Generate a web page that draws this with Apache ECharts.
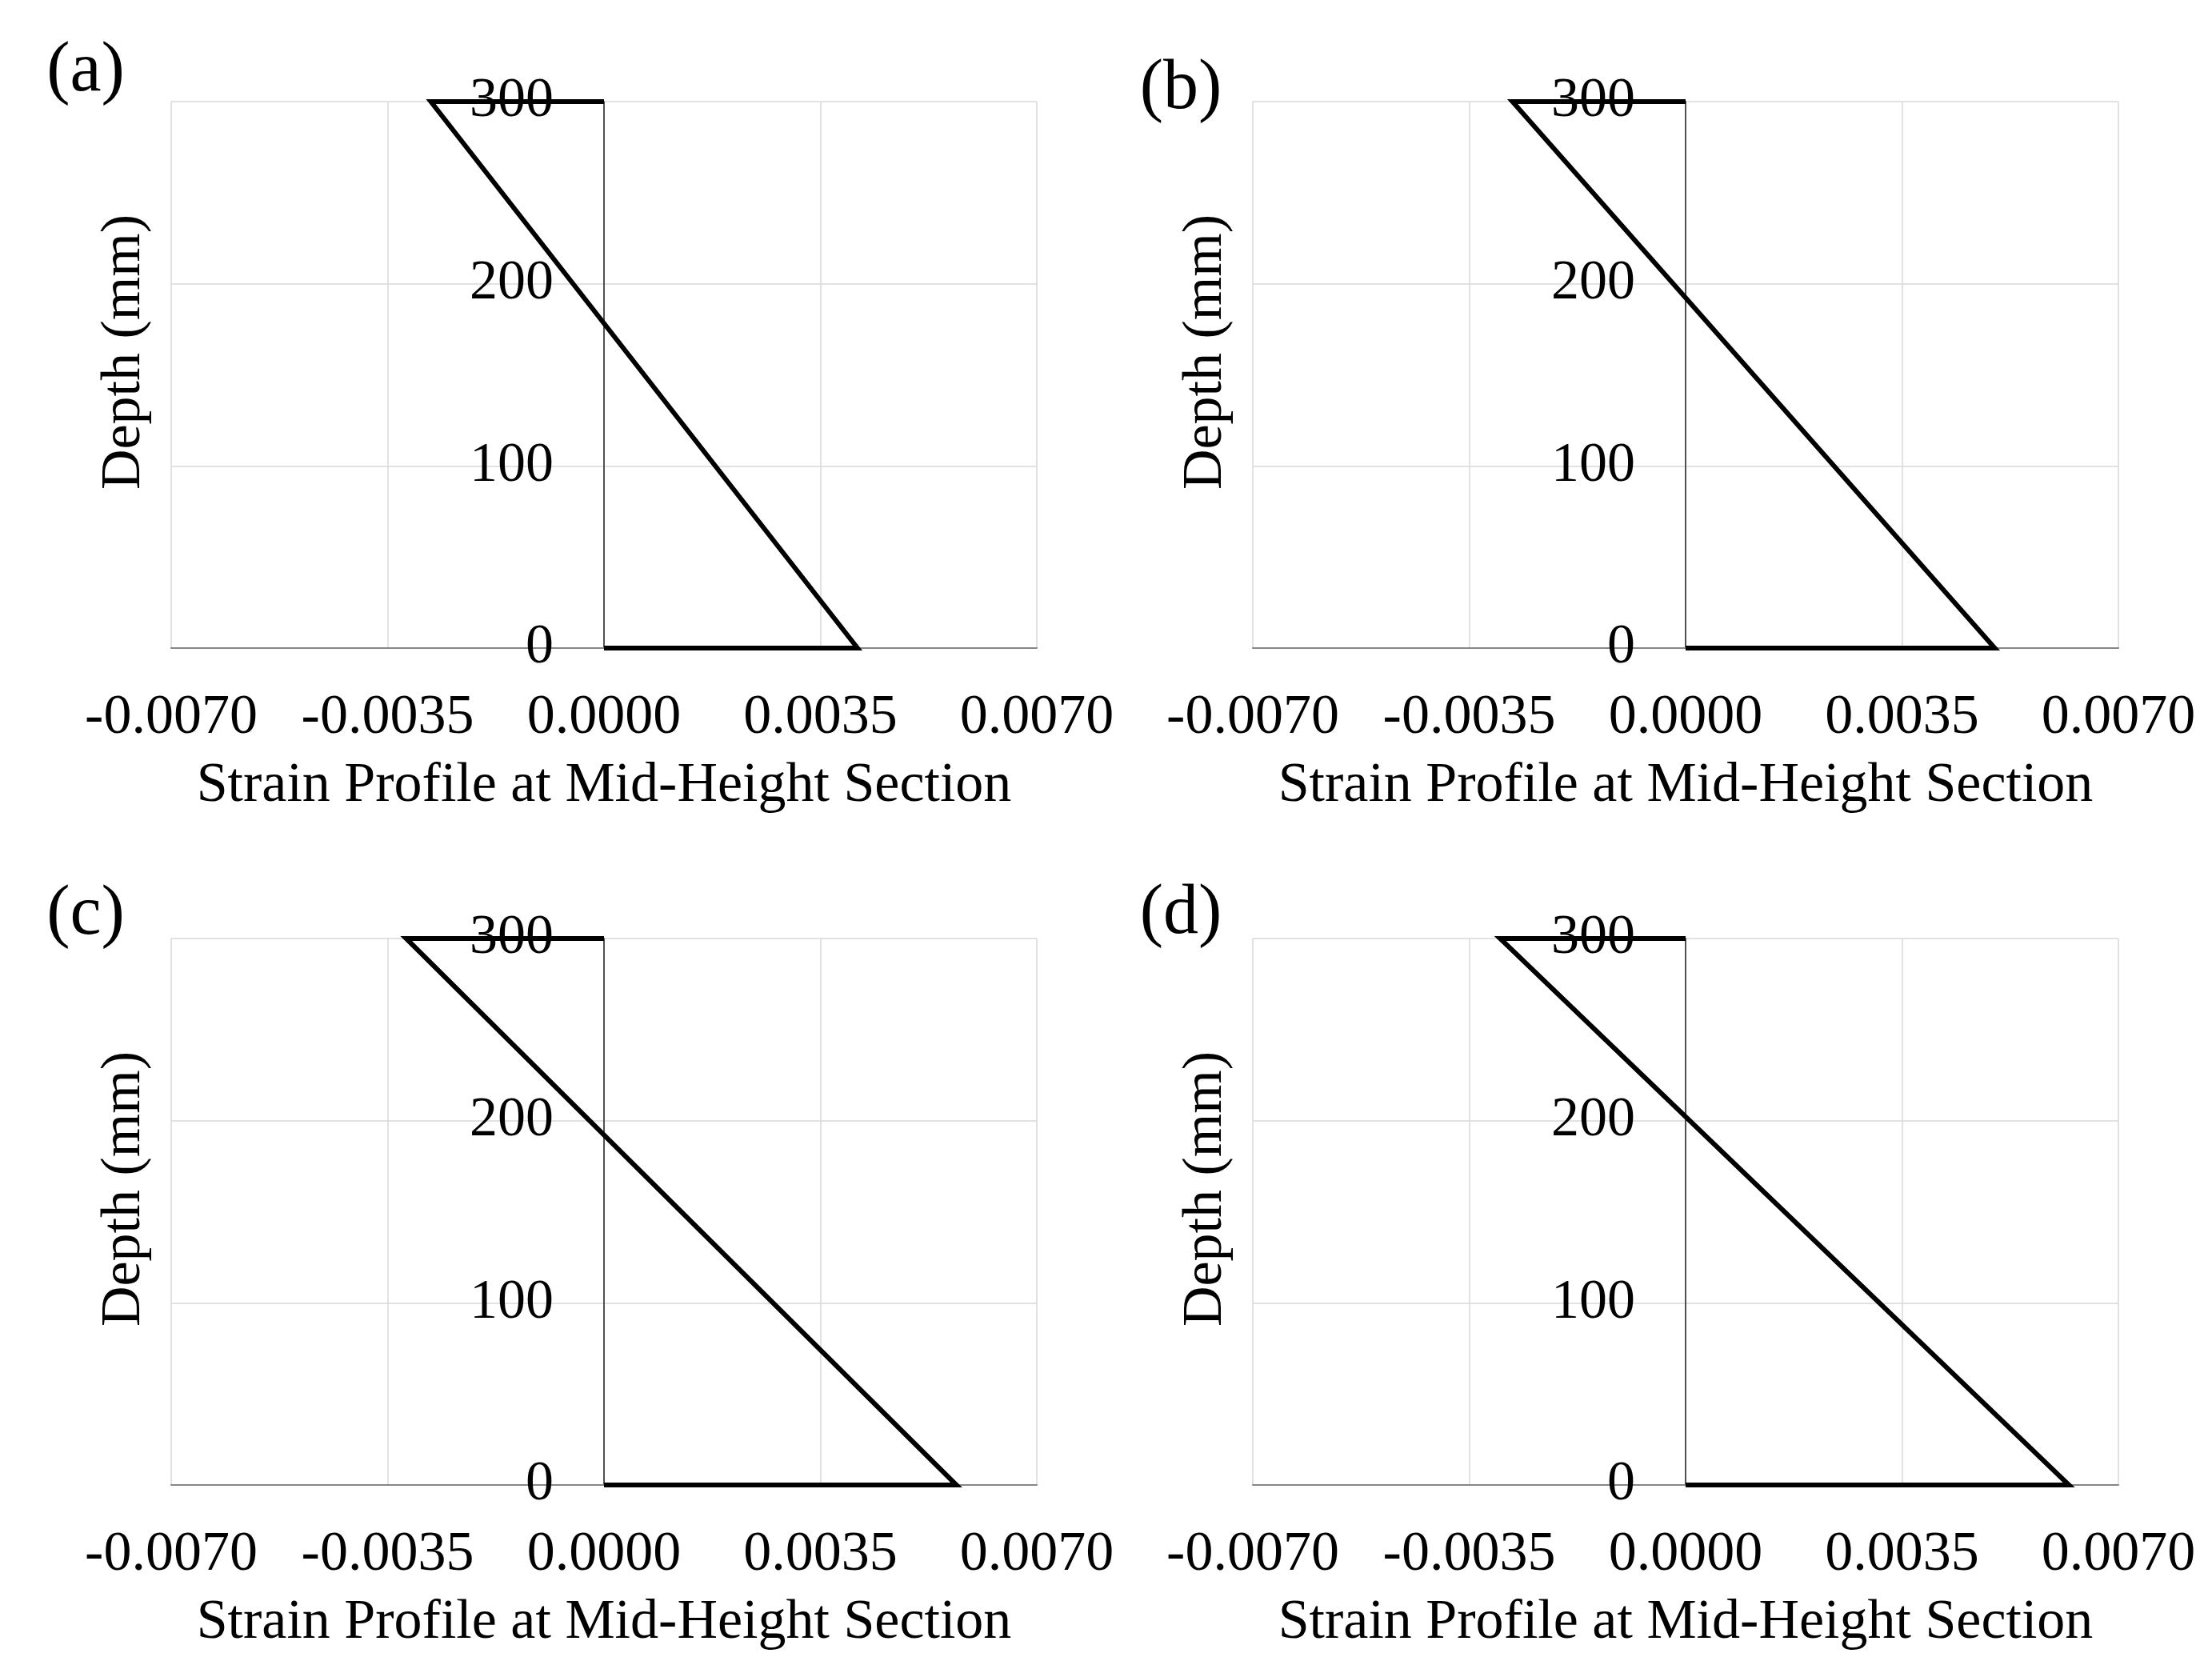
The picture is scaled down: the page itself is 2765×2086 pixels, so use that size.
<!DOCTYPE html>
<html>
<head>
<meta charset="utf-8">
<script src="https://cdn.jsdelivr.net/npm/echarts@6/dist/echarts.min.js"></script>
<style>
html,body{margin:0;padding:0;background:#ffffff;}
#chart{width:2765px;height:2086px;}
</style>
</head>
<body>
<div id="chart"></div>
<script>
// ---- data ----
const depth = [300, 300, 0, 0];                 // mm
const strainA = [0, -0.0028, 0.0041, 0];
const strainB = [0, -0.0028, 0.0050, 0];
const strainC = [0, -0.0032, 0.0057, 0];
const strainD = [0, -0.0030, 0.0062, 0];
const panelLabels = ['(a)', '(b)', '(c)', '(d)'];
const xTickValues = [-0.007, -0.0035, 0, 0.0035, 0.007];
const yTickValues = [0, 100, 200, 300];
const xTitle = 'Strain Profile at Mid-Height Section';
const yTitle = 'Depth (mm)';

// ---- layout ----
const FONT = "'Liberation Serif','Times New Roman',serif";
const GW = 1082, GH = 683;
const strains = [strainA, strainB, strainC, strainD];
const layout = [
  {left: 214,  top: 127,  lx: 107,  ly: 90},
  {left: 1566, top: 127,  lx: 1476, ly: 112},
  {left: 214,  top: 1173, lx: 107,  ly: 1144},
  {left: 1566, top: 1173, lx: 1476, ly: 1143}
];

const xMin = xTickValues[0], xMax = xTickValues[xTickValues.length - 1];
const xStep = xTickValues[1] - xTickValues[0];
const yMin = yTickValues[0], yMax = yTickValues[yTickValues.length - 1];
const yStep = yTickValues[1] - yTickValues[0];

const fmtX = v => (Math.abs(v) < 1e-12 ? 0 : v).toFixed(4);

const grids = [], xAxes = [], yAxes = [], series = [], graphics = [];
layout.forEach((p, i) => {
  grids.push({left: p.left, top: p.top, width: GW, height: GH, containLabel: false, outerBoundsMode: 'none'});
  xAxes.push({
    type: 'value', gridIndex: i, min: xMin, max: xMax, interval: xStep,
    axisLine: {show: true, onZero: false, lineStyle: {color: '#868686', width: 2}},
    axisTick: {show: false},
    axisLabel: {margin: 53, fontSize: 70, fontFamily: FONT, color: '#000', formatter: fmtX},
    splitLine: {show: true, lineStyle: {color: '#d9d9d9', width: 1.5}}
  });
  // the vertical axis crosses at strain = 0 (centre of the plot)
  yAxes.push({
    type: 'value', gridIndex: i, min: yMin, max: yMax, interval: yStep,
    position: 'left', offset: -GW / 2,
    axisLine: {show: true, onZero: false, lineStyle: {color: '#222', width: 1.5}},
    axisTick: {show: false},
    axisLabel: {margin: 63, fontSize: 70, fontFamily: FONT, color: '#000'},
    splitLine: {show: true, lineStyle: {color: '#d9d9d9', width: 1.5}}
  });
  series.push({
    type: 'line', xAxisIndex: i, yAxisIndex: i,
    data: strains[i].map((s, k) => [s, depth[k]]),
    showSymbol: false, symbol: 'none', clip: false, z: 5,
    lineStyle: {color: '#000', width: 6, join: 'miter'}
  });
  graphics.push({
    type: 'text', x: p.lx, y: p.ly,
    style: {text: panelLabels[i], fontSize: 88, fontFamily: FONT, fill: '#000', align: 'center', verticalAlign: 'middle'}
  });
  graphics.push({
    type: 'text', x: p.left - 58, y: p.top + 313, rotation: Math.PI / 2,
    style: {text: yTitle, fontSize: 70, fontFamily: FONT, fill: '#000', align: 'center', verticalAlign: 'middle'}
  });
  graphics.push({
    type: 'text', x: p.left + GW / 2, y: p.top + 856,
    style: {text: xTitle, fontSize: 70, fontFamily: FONT, fill: '#000', align: 'center', verticalAlign: 'middle'}
  });
});

const chart = echarts.init(document.getElementById('chart'), null, {renderer: 'canvas'});
chart.setOption({
  backgroundColor: '#ffffff',
  animation: false,
  grid: grids,
  xAxis: xAxes,
  yAxis: yAxes,
  series: series,
  graphic: graphics
});
</script>
</body>
</html>
